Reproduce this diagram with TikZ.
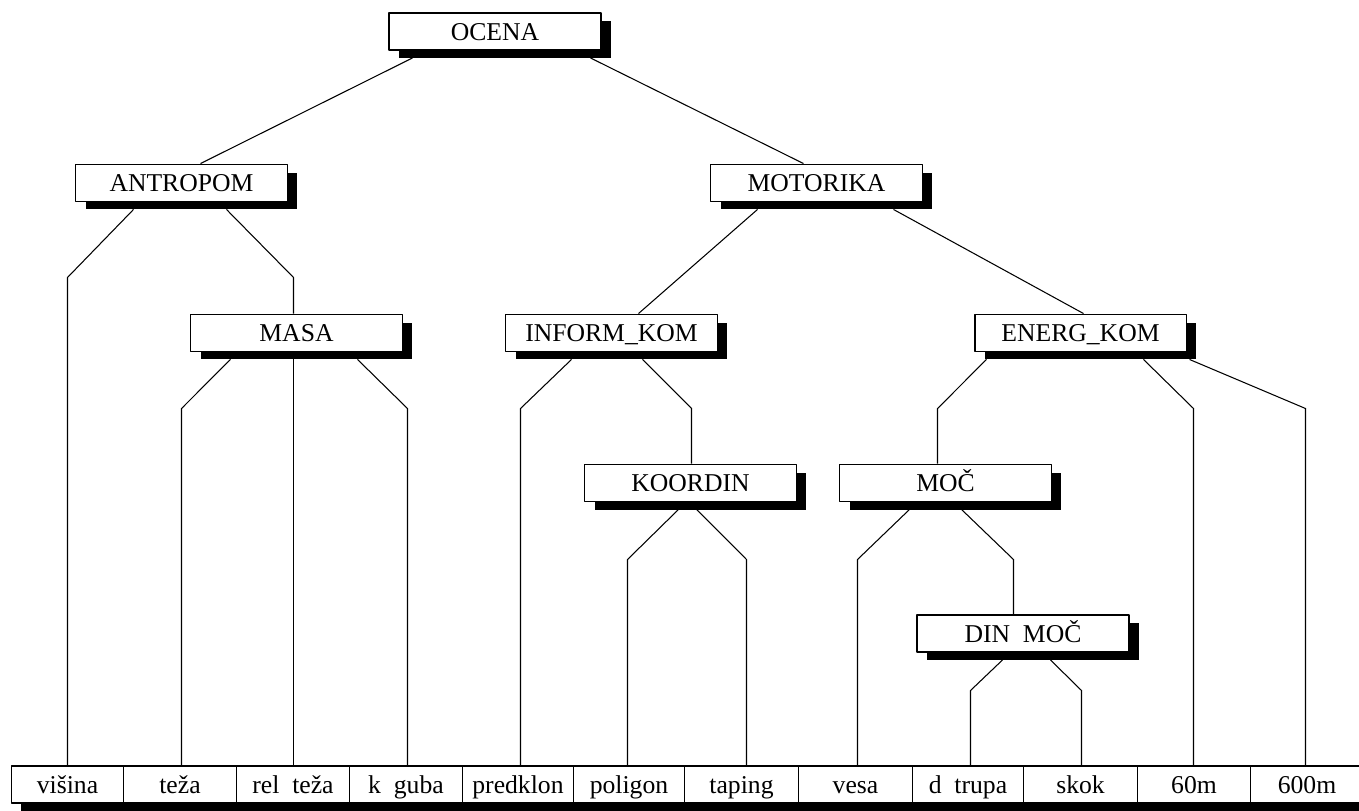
\documentclass[tikz,border=0pt]{standalone}
\usepackage{fontspec}
\setmainfont{Liberation Serif}
\usepackage{tikz}
\usetikzlibrary{calc,positioning,shadows,backgrounds}

\tikzset{
  frame/.style={draw, fill=white, line width=1.1pt, inner sep=0pt,
    minimum height=0.74cm, text height=10pt, text depth=0pt,
    font=\fontsize{14.6}{17}\selectfont},
  attr/.style={frame, minimum width=4.24cm,
    drop shadow={shadow xshift=0.2cm, shadow yshift=-0.16cm, fill=black, opacity=1}},
  leaf/.style={frame, minimum width=2.26cm},
  link/.style={line width=0.6pt}
}

\begin{document}
\begin{tikzpicture}[line cap=round,line join=round,x=0.02cm,y=-0.02cm]
\useasboundingbox (-0.5,-0.5) rectangle (1358.5,810.5);
\clip (-0.5,-0.5) rectangle (1358.5,810.5);
% aggregate attributes
\node[attr] (ocena)    at (494.5,31)  {OCENA};
\node[attr] (antropom) at (181,182.5) {ANTROPOM};
\node[attr] (motorika) at (816,182.5) {MOTORIKA};
\node[attr] (masa)     at (296,332.5) {MASA};
\node[attr] (inform)   at (611,332.5) {INFORM\_KOM};
\node[attr] (energ)    at (1080,332.5) {ENERG\_KOM};
\node[attr] (koordin)  at (690,482.5) {KOORDIN};
\node[attr] (moc)      at (945,482.5) {MOČ};
\node[attr] (dinmoc)   at (1022.5,633) {DIN~~MOČ};
% basic attributes
\node[leaf, minimum width=2.24cm] (visina)   at (67,784)     {višina};
\node[leaf]                       (teza)     at (179.5,784)  {teža};
\node[leaf]                       (relteza)  at (292.5,784)  {rel~~teža};
\node[leaf]                       (kguba)    at (405.5,784)  {k~~guba};
\node[leaf, minimum width=2.22cm] (predklon) at (517.5,784)  {predklon};
\node[leaf, minimum width=2.22cm] (poligon)  at (628.5,784)  {poligon};
\node[leaf, minimum width=2.28cm] (taping)   at (741,784)    {taping};
\node[leaf, minimum width=2.28cm] (vesa)     at (855,784)    {vesa};
\node[leaf, minimum width=2.22cm] (dtrupa)   at (967.5,784)  {d~~trupa};
\node[leaf, minimum width=2.28cm] (skok)     at (1080,784)   {skok};
\node[leaf]                       (m60)      at (1193.5,784) {60m};
\node[leaf]                       (m600)     at (1306.5,784) {600m};
% bends
\coordinate (k1)  at (67,277);
\coordinate (k2)  at (293,277);
\coordinate (k3)  at (181,408);
\coordinate (k4)  at (293,408);
\coordinate (k5)  at (407,408);
\coordinate (k6)  at (520,408);
\coordinate (k7)  at (691,408);
\coordinate (k8)  at (937,408);
\coordinate (k9)  at (1193,408);
\coordinate (k10) at (1305,408);
\coordinate (k11) at (627,559);
\coordinate (k12) at (746,559);
\coordinate (k13) at (857,559);
\coordinate (k14) at (1013,559);
\coordinate (k15) at (970,690);
\coordinate (k16) at (1081,690);
\begin{scope}[on background layer]
% one shadow under the whole row of leaves
\fill[black] ($(visina.north west)+(10,8)$) rectangle ($(m600.south east)+(10,8)$);
\draw[link] ($(ocena.south)+(-82.5,7)$) -- ($(antropom.north)+(19,0)$);
\draw[link] ($(ocena.south)+(95.5,7)$) -- ($(motorika.north)+(-13,0)$);
\draw[link] ($(antropom.south)+(-48,7)$) -- (k1) -- (k1 |- visina.north);
\draw[link] ($(antropom.south)+(45,7)$) -- (k2) -- (k2 |- masa.north);
\draw[link] ($(motorika.south)+(-59,7)$) -- ($(inform.north)+(27,0)$);
\draw[link] ($(motorika.south)+(77,7)$) -- ($(energ.north)+(3,0)$);
\draw[link] ($(masa.south)+(-66,7)$) -- (k3) -- (k3 |- teza.north);
\draw[link] (k4 |- masa.south) -- (k4) -- (k4 |- relteza.north);
\draw[link] ($(masa.south)+(61,7)$) -- (k5) -- (k5 |- kguba.north);
\draw[link] ($(inform.south)+(-40,7)$) -- (k6) -- (k6 |- predklon.north);
\draw[link] ($(inform.south)+(31,7)$) -- (k7) -- (k7 |- koordin.north);
\draw[link] ($(energ.south)+(-94,7)$) -- (k8) -- (k8 |- moc.north);
\draw[link] ($(energ.south)+(63,7)$) -- (k9) -- (k9 |- m60.north);
\draw[link] ($(energ.south)+(109,7)$) -- (k10) -- (k10 |- m600.north);
\draw[link] ($(koordin.south)+(-12,7)$) -- (k11) -- (k11 |- poligon.north);
\draw[link] ($(koordin.south)+(6,7)$) -- (k12) -- (k12 |- taping.north);
\draw[link] ($(moc.south)+(-36,7)$) -- (k13) -- (k13 |- vesa.north);
\draw[link] ($(moc.south)+(16,7)$) -- (k14) -- (k14 |- dinmoc.north);
\draw[link] ($(dinmoc.south)+(-20.5,7)$) -- (k15) -- (k15 |- dtrupa.north);
\draw[link] ($(dinmoc.south)+(27.5,7)$) -- (k16) -- (k16 |- skok.north);
\end{scope}
\end{tikzpicture}
\end{document}
